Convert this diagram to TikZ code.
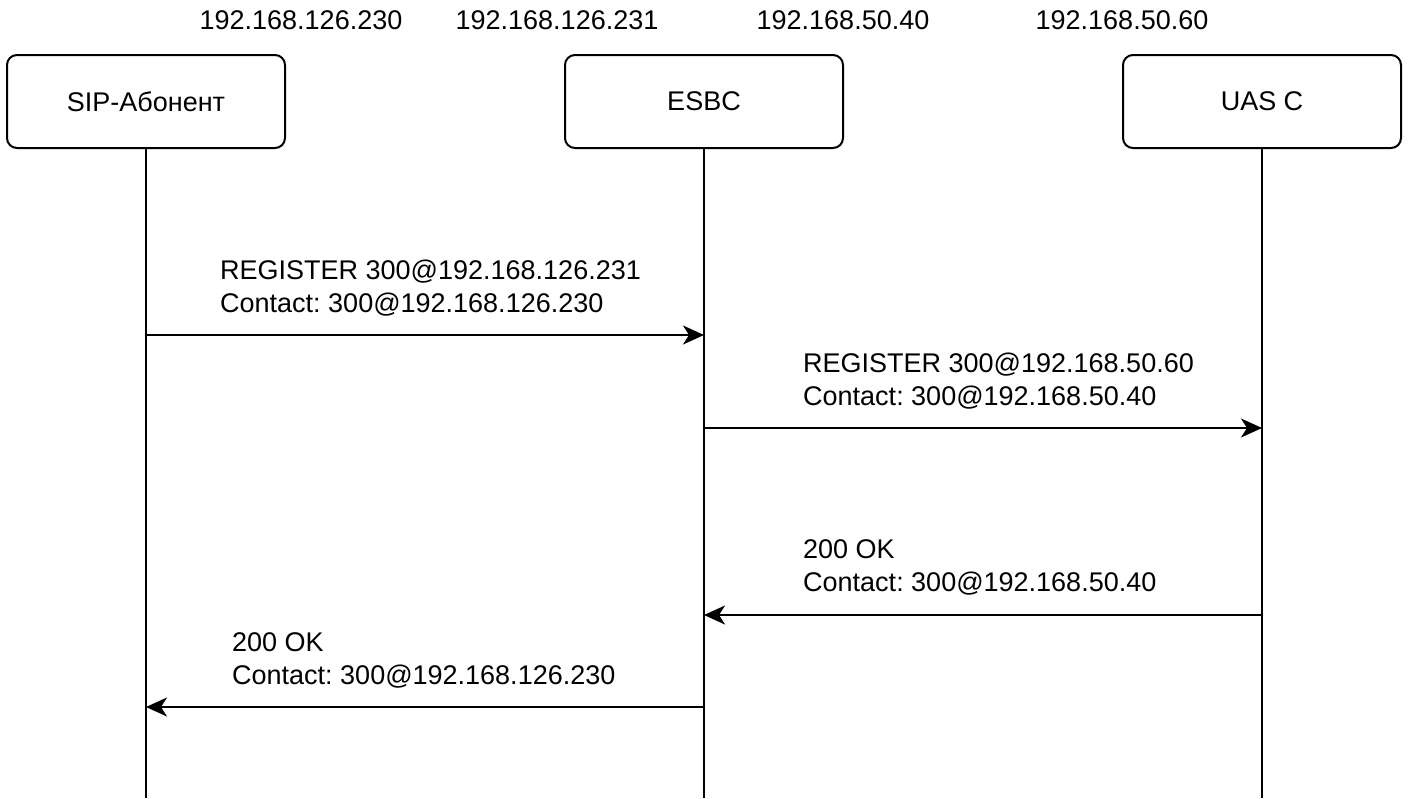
\documentclass[tikz,border=0pt]{standalone}
\usepackage{fontspec}
\setmainfont{Liberation Sans}
\usetikzlibrary{arrows.meta,positioning}
\definecolor{Ink}{HTML}{000000}
\frenchspacing

\begin{document}
\begin{tikzpicture}[
      x=1pt,y=-1pt,
      node distance=278pt,
      font=\fontsize{27}{33}\selectfont,
      box/.style={draw=Ink,line width=2pt,rounded corners=10pt,align=center,
        minimum width=278pt,minimum height=93pt},
      ip/.style={inner sep=0pt},
      msgtext/.style={align=left,anchor=west,inner sep=0pt},
      life/.style={line width=2pt,color=Ink},
      arrow/.style={-{Stealth[length=21pt,width=19pt,inset=6pt]},line width=2pt,color=Ink}
    ]
      \useasboundingbox (0,0) rectangle (1408,798);
      \node[box] (sip) at (146,101.5) {SIP-Абонент};
      \node[box,right=of sip] (esbc) {ESBC};
      \node[box,right=of esbc] (uas) {UAS C};
      \node[ip] (ipsip) at (301,20) {192.168.126.230};
      \node[ip] (ipin) at (557,20) {192.168.126.231};
      \node[ip] (ipout) at (843,20) {192.168.50.40};
      \node[ip] (ipuas) at (1122,20) {192.168.50.60};
      \coordinate (bottom) at (0,798);
      \coordinate (r1) at (0,335);
      \coordinate (r2) at (0,428);
      \coordinate (r3) at (0,615);
      \coordinate (r4) at (0,707);
      \draw[life] (sip) -- (sip |- bottom);
      \draw[life] (esbc) -- (esbc |- bottom);
      \draw[life] (uas) -- (uas |- bottom);
      \node[msgtext] (reg1) at (220,288.5) {REGISTER 300@192.168.126.231\\Contact: 300@192.168.126.230};
      \node[msgtext] (reg2) at (803,381.5) {REGISTER 300@192.168.50.60\\Contact: 300@192.168.50.40};
      \node[msgtext] (ok2) at (803,567.5) {200 OK\\Contact: 300@192.168.50.40};
      \node[msgtext] (ok1) at (232,660) {200 OK\\Contact: 300@192.168.126.230};
      \draw[arrow] (sip |- r1) -- (esbc |- r1);
      \draw[arrow] (esbc |- r2) -- (uas |- r2);
      \draw[arrow] (uas |- r3) -- (esbc |- r3);
      \draw[arrow] (esbc |- r4) -- (sip |- r4);
    \end{tikzpicture}
\end{document}
